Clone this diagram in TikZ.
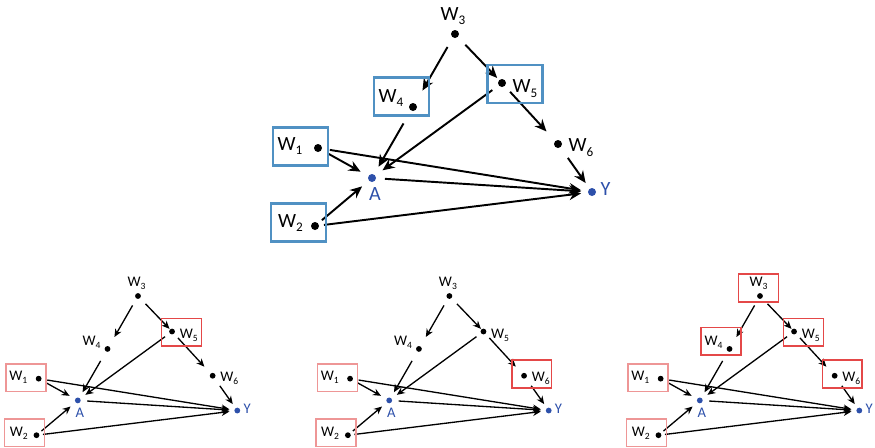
\documentclass[tikz,border=0pt]{standalone}
\usepackage{fontspec}
\setmainfont{Carlito}
\usetikzlibrary{arrows.meta,calc}
\definecolor{dotblue}{RGB}{45,80,170}
\definecolor{boxblue}{RGB}{80,145,195}
\definecolor{boxred}{RGB}{228,72,72}
\definecolor{boxpink}{RGB}{238,150,150}
\newcommand{\wsub}[1]{W\raisebox{-0.45ex}{\fontsize{7.5}{8}\selectfont #1}}
\tikzset{
  pt/.style={circle,fill=black,inner sep=0pt,minimum size=0.16cm},
  lbl/.style={inner sep=0pt,font=\fontsize{11.5}{13}\selectfont},
  arr/.style={-{Stealth[length=2.4mm,width=2.1mm]},line width=1.1pt},
  hl/.style={draw=#1,line width=1.2pt,minimum width=1.1cm,minimum height=0.76cm,inner sep=0pt},
  small/.style={scale=0.725,transform shape,
    arr/.style={-{Stealth[length=1.6mm,width=1.4mm]},line width=0.75pt},
    hl/.append style={line width=0.9pt}}
}
% one causal graph, in pixel units of the top panel
\newcommand{\causalgraph}{%
% variables: dot and label
\foreach \n/\x/\y/\g/\lx/\ly/\c/\t in {W3/455/34/0.22/453/16/black/\wsub{3},
  W4/413/107/0.30/391/98/black/\wsub{4}, W5/502/83/0.16/525/88.5/black/\wsub{5},
  W1/318/148/0.16/290/146/black/\wsub{1}, W2/315/226/0.10/290.5/223/black/\wsub{2},
  W6/558/144/0.26/581/147.5/black/\wsub{6}, A/372/178/0.18/375/194.5/dotblue/A,
  Y/592/192/0.14/605.5/189.5/dotblue/Y}
  {\node[pt,fill=\c,outer sep=\g cm] (\n) at (\x,\y) {};
   \node[lbl,text=\c] (\n-t) at (\lx,\ly) {\t};}
% box centres
\foreach \n/\x/\y in {W1/300.5/146.5, W2/298.5/222.5, W3/453/23, W4/401.5/96.5, W5/515/84, W6/568.5/141.5}
  \coordinate (\n-b) at (\x,\y);
% edges
\foreach \a/\b/\s in {W3/W4/0,W3/W5/-0.1,W5/W6/0,W5/A/0,W4/A/0,W1/A/0,W1/Y/0,A/Y/0,W2/A/0,W2/Y/0,W6/Y/0}
  \draw[arr,shorten >=\s cm] (\a) -- (\b);
}
\begin{document}
\begin{tikzpicture}[x=0.02cm,y=-0.02cm]
\useasboundingbox (0,0) rectangle (875,447);
% top
\begin{scope}[name prefix=t-]
\causalgraph
\foreach \v in {W1,W2,W4,W5} \node[hl=boxblue] (\v-box) at (\v-b) {};
\end{scope}
% bottom left
\begin{scope}[shift={(-191.9,271.35)},small,name prefix=l-]
\causalgraph
\foreach \v/\c in {W1/boxpink,W2/boxpink,W5/boxred} \node[hl=\c] (\v-box) at (\v-b) {};
\end{scope}
% bottom middle
\begin{scope}[shift={(119.5,271.35)},small,name prefix=m-]
\causalgraph
\foreach \v/\c in {W1/boxpink,W2/boxpink,W6/boxred} \node[hl=\c] (\v-box) at (\v-b) {};
\end{scope}
% bottom right
\begin{scope}[shift={(430.1,271.35)},small,name prefix=r-]
\causalgraph
\foreach \v/\c in {W1/boxpink,W2/boxpink,W3/boxred,W4/boxred,W5/boxred,W6/boxred} \node[hl=\c] (\v-box) at (\v-b) {};
\end{scope}
\end{tikzpicture}
\end{document}
